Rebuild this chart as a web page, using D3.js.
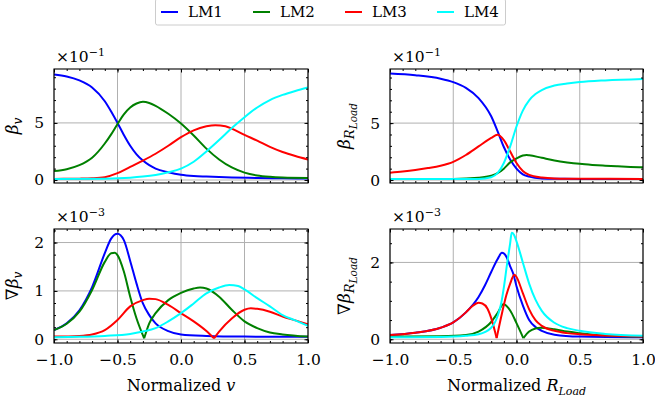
<!DOCTYPE html>
<html>
<head>
<meta charset="utf-8">
<style>
  body { margin: 0; background: #fff; }
  svg text { font-family: "DejaVu Serif", serif; }
</style>
</head>
<body>
<script src="https://cdn.jsdelivr.net/npm/d3@7"></script>
<script>
var width = 655, height = 405;

var seriesNames = ["LM1", "LM2", "LM3", "LM4"];
var colors = ["#0000ff", "#008000", "#ff0000", "#00ffff"];

// beta_v  (x10^-1)
var betaV_LM1 = [[-1,9.24],[-0.9,9.07],[-0.8,8.72],[-0.7,8.1],[-0.6,6.9],[-0.55,6.0],[-0.5,5.0],[-0.45,3.95],[-0.4,3.0],[-0.35,2.25],[-0.3,1.7],[-0.25,1.3],[-0.2,1.0],[-0.1,0.68],[0,0.46],[0.1,0.35],[0.2,0.3],[0.4,0.22],[0.6,0.18],[0.8,0.15],[1,0.13]];
var betaV_LM2 = [[-1,0.78],[-0.9,0.95],[-0.8,1.3],[-0.7,1.95],[-0.6,3.2],[-0.55,4.0],[-0.5,4.9],[-0.45,5.75],[-0.4,6.35],[-0.35,6.7],[-0.3,6.85],[-0.25,6.75],[-0.2,6.5],[-0.1,5.8],[0,4.95],[0.1,3.9],[0.2,2.75],[0.3,1.8],[0.4,1.1],[0.5,0.65],[0.6,0.4],[0.7,0.28],[0.8,0.22],[1,0.18]];
var betaV_LM3 = [[-1,0.1],[-0.8,0.12],[-0.7,0.15],[-0.6,0.25],[-0.5,0.6],[-0.4,1.15],[-0.3,1.7],[-0.2,2.3],[-0.1,3.0],[0,3.75],[0.1,4.35],[0.2,4.7],[0.27,4.8],[0.35,4.7],[0.4,4.5],[0.5,3.95],[0.6,3.45],[0.7,2.9],[0.8,2.45],[0.9,2.1],[1,1.8]];
var betaV_LM4 = [[-1,0.1],[-0.6,0.12],[-0.4,0.2],[-0.3,0.3],[-0.2,0.45],[-0.1,0.68],[0,1.0],[0.1,1.6],[0.2,2.5],[0.3,3.5],[0.4,4.55],[0.5,5.5],[0.6,6.35],[0.7,7.0],[0.8,7.45],[0.9,7.8],[1,8.1]];

// beta_R_Load  (x10^-1)
var betaR_LM1 = [[-1,9.35],[-0.8,9.2],[-0.6,8.9],[-0.5,8.6],[-0.4,8.1],[-0.3,7.2],[-0.2,5.6],[-0.15,4.3],[-0.1,2.9],[-0.05,1.8],[0,1.0],[0.05,0.5],[0.1,0.3],[0.2,0.14],[0.3,0.11],[0.5,0.1],[1,0.1]];
var betaR_LM2 = [[-1,0.09],[-0.5,0.1],[-0.3,0.2],[-0.2,0.38],[-0.15,0.6],[-0.1,1.0],[-0.05,1.55],[0,1.9],[0.05,2.15],[0.08,2.2],[0.1,2.18],[0.2,1.95],[0.3,1.72],[0.4,1.55],[0.5,1.42],[0.6,1.33],[0.7,1.26],[0.8,1.2],[0.9,1.15],[1,1.12]];
var betaR_LM3 = [[-1,0.65],[-0.9,0.75],[-0.8,0.88],[-0.7,1.05],[-0.6,1.26],[-0.5,1.6],[-0.4,2.2],[-0.3,2.95],[-0.2,3.7],[-0.15,3.97],[-0.1,3.5],[-0.05,2.5],[0,1.5],[0.05,0.8],[0.1,0.45],[0.2,0.22],[0.3,0.14],[0.5,0.11],[1,0.1]];
var betaR_LM4 = [[-1,0.09],[-0.3,0.1],[-0.2,0.25],[-0.15,0.6],[-0.1,1.5],[-0.05,2.95],[0,4.7],[0.05,6.1],[0.1,7.0],[0.15,7.55],[0.2,7.9],[0.3,8.3],[0.4,8.47],[0.5,8.6],[0.7,8.75],[1,8.88]];

// grad beta_v  (x10^-3)
var gradV_LM1 = [[-1,0.19],[-0.9,0.33],[-0.8,0.6],[-0.7,1.08],[-0.6,1.78],[-0.55,2.08],[-0.5,2.18],[-0.45,2.05],[-0.4,1.62],[-0.35,1.15],[-0.3,0.74],[-0.25,0.5],[-0.2,0.33],[-0.1,0.17],[0,0.1],[0.2,0.07],[0.5,0.055],[1,0.05]];
var gradV_LM2 = [[-1,0.19],[-0.9,0.32],[-0.8,0.57],[-0.7,1.02],[-0.6,1.6],[-0.55,1.78],[-0.52,1.79],[-0.5,1.74],[-0.45,1.4],[-0.4,0.88],[-0.35,0.43],[-0.29,0.02],[-0.25,0.33],[-0.2,0.54],[-0.1,0.81],[0,0.96],[0.1,1.05],[0.15,1.07],[0.2,1.05],[0.3,0.88],[0.4,0.61],[0.5,0.37],[0.6,0.23],[0.7,0.14],[0.8,0.1],[1,0.055]];
var gradV_LM3 = [[-1,0.055],[-0.8,0.07],[-0.7,0.1],[-0.6,0.19],[-0.5,0.4],[-0.4,0.68],[-0.3,0.81],[-0.25,0.84],[-0.2,0.83],[-0.1,0.71],[0,0.54],[0.1,0.37],[0.2,0.17],[0.26,0.02],[0.3,0.16],[0.4,0.43],[0.5,0.61],[0.55,0.64],[0.6,0.63],[0.7,0.57],[0.8,0.47],[0.9,0.39],[1,0.31]];
var gradV_LM4 = [[-1,0.04],[-0.8,0.05],[-0.6,0.07],[-0.4,0.11],[-0.3,0.16],[-0.2,0.23],[-0.1,0.37],[0,0.54],[0.1,0.74],[0.2,0.95],[0.3,1.07],[0.38,1.12],[0.45,1.1],[0.5,1.03],[0.6,0.85],[0.7,0.68],[0.8,0.5],[0.9,0.39],[1,0.28]];

// grad beta_R_Load  (x10^-3)
var gradR_LM1 = [[-1,0.11],[-0.8,0.17],[-0.6,0.3],[-0.5,0.44],[-0.4,0.7],[-0.3,1.1],[-0.25,1.4],[-0.2,1.75],[-0.15,2.08],[-0.115,2.25],[-0.08,2.15],[-0.05,1.9],[-0.025,1.7],[0,1.38],[0.05,0.88],[0.1,0.5],[0.15,0.32],[0.2,0.22],[0.3,0.12],[0.5,0.07],[1,0.05]];
var gradR_LM2 = [[-1,0.07],[-0.6,0.08],[-0.4,0.11],[-0.3,0.2],[-0.2,0.45],[-0.15,0.68],[-0.104,0.91],[-0.05,0.75],[0,0.42],[0.054,0.03],[0.1,0.2],[0.15,0.28],[0.19,0.3],[0.3,0.26],[0.4,0.2],[0.5,0.16],[0.7,0.1],[1,0.07]];
var gradR_LM3 = [[-1,0.11],[-0.8,0.17],[-0.6,0.3],[-0.5,0.44],[-0.4,0.7],[-0.35,0.86],[-0.3,0.95],[-0.27,0.93],[-0.23,0.8],[-0.2,0.55],[-0.157,0.03],[-0.12,0.6],[-0.08,1.15],[-0.05,1.45],[-0.017,1.68],[0,1.62],[0.05,1.2],[0.1,0.78],[0.15,0.5],[0.2,0.35],[0.3,0.22],[0.4,0.16],[0.5,0.13],[0.7,0.1],[1,0.07]];
var gradR_LM4 = [[-1,0.05],[-0.6,0.06],[-0.4,0.09],[-0.3,0.13],[-0.2,0.3],[-0.15,0.6],[-0.12,0.95],[-0.1,1.35],[-0.075,1.95],[-0.05,2.5],[-0.038,2.77],[-0.02,2.72],[0,2.55],[0.05,2.0],[0.1,1.45],[0.15,1.03],[0.2,0.74],[0.3,0.43],[0.4,0.29],[0.5,0.22],[0.7,0.14],[1,0.09]];

var xMajorTicks = [-1, -0.5, 0, 0.5, 1];
var xMinorTicks = [-1, -0.9, -0.8, -0.7, -0.6, -0.5, -0.4, -0.3, -0.2, -0.1, 0, 0.1, 0.2, 0.3, 0.4, 0.5, 0.6, 0.7, 0.8, 0.9, 1];

var panels = [
  { series: [betaV_LM1, betaV_LM2, betaV_LM3, betaV_LM4], left: 54, right: 308, top: 69, bottom: 183,
    yDomain: [-0.26, 9.72], yMajor: [0, 5], yMinor: [0,1,2,3,4,5,6,7,8,9], exp: "−1",
    ylabel: [["β", 17, 0], ["v", 12, 4]], ylabelX: 18, xTickLabels: false },
  { series: [betaR_LM1, betaR_LM2, betaR_LM3, betaR_LM4], left: 390, right: 643, top: 69, bottom: 183,
    yDomain: [-0.26, 9.75], yMajor: [0, 5], yMinor: [0,1,2,3,4,5,6,7,8,9], exp: "−1",
    ylabel: [["β", 17, 0], ["R", 13, 4], ["Load", 10.5, 3]], ylabelX: 350, xTickLabels: false },
  { series: [gradV_LM1, gradV_LM2, gradV_LM3, gradV_LM4], left: 54, right: 308, top: 229, bottom: 343,
    yDomain: [-0.077, 2.28], yMajor: [0, 1, 2], yMinor: [0,0.25,0.5,0.75,1,1.25,1.5,1.75,2,2.25], exp: "−3",
    ylabel: [["∇β", 17, 0], ["v", 12, 4]], ylabelX: 18, xTickLabels: true, xlabel: [["Normalized ", 16, 0, "normal"], ["v", 16, 0, "italic"]] },
  { series: [gradR_LM1, gradR_LM2, gradR_LM3, gradR_LM4], left: 390, right: 643, top: 229, bottom: 343,
    yDomain: [-0.097, 2.87], yMajor: [0, 2], yMinor: [0,0.5,1,1.5,2,2.5], exp: "−3",
    ylabel: [["∇β", 17, 0], ["R", 13, 4], ["Load", 10.5, 3]], ylabelX: 350, xTickLabels: true, xlabel: [["Normalized ", 16, 0, "normal"], ["R", 16, 0, "italic"], ["Load", 11, 4, "italic"]] }
];

var svg = d3.select("body").append("svg")
    .attr("width", width)
    .attr("height", height);

// split a series at its interior minima so the |gradient| cusps stay sharp
function splitAtMinima(pts) {
  var parts = [], start = 0;
  for (var i = 1; i < pts.length - 1; i++) {
    if (pts[i][1] < pts[i - 1][1] && pts[i][1] < pts[i + 1][1]) {
      parts.push(pts.slice(start, i + 1));
      start = i;
    }
  }
  parts.push(pts.slice(start));
  return parts;
}

panels.forEach(function(p, pi) {
  var x = d3.scaleLinear().domain([-1, 1]).range([p.left, p.right]);
  var y = d3.scaleLinear().domain(p.yDomain).range([p.bottom, p.top]);
  var g = svg.append("g");

  g.append("clipPath").attr("id", "clip" + pi)
    .append("rect")
      .attr("x", p.left).attr("y", p.top)
      .attr("width", p.right - p.left).attr("height", p.bottom - p.top);

  // grid
  g.selectAll(".gx").data(xMajorTicks).enter().append("line")
      .attr("x1", function(d){ return x(d); }).attr("x2", function(d){ return x(d); })
      .attr("y1", p.top).attr("y2", p.bottom)
      .attr("stroke", "#b0b0b0").attr("stroke-width", 1);
  g.selectAll(".gy").data(p.yMajor).enter().append("line")
      .attr("y1", function(d){ return y(d); }).attr("y2", function(d){ return y(d); })
      .attr("x1", p.left).attr("x2", p.right)
      .attr("stroke", "#b0b0b0").attr("stroke-width", 1);

  // curves
  var line = d3.line()
      .x(function(d){ return x(d[0]); })
      .y(function(d){ return y(d[1]); })
      .curve(d3.curveMonotoneX);
  var lg = g.append("g").attr("clip-path", "url(#clip" + pi + ")");
  p.series.forEach(function(s, si) {
    splitAtMinima(s).forEach(function(part) {
      lg.append("path")
          .attr("d", line(part))
          .attr("fill", "none")
          .attr("stroke", colors[si])
          .attr("stroke-width", 2)
          .attr("stroke-linejoin", "round");
    });
  });

  // axes, ticks pointing inward on all four sides
  var fmtX = d3.format(".1f");
  var axes = [
    [d3.axisBottom(x).tickValues(xMinorTicks).tickSize(-2).tickFormat(""), "translate(0," + p.bottom + ")"],
    [d3.axisTop(x).tickValues(xMinorTicks).tickSize(-2).tickFormat(""), "translate(0," + p.top + ")"],
    [d3.axisTop(x).tickValues(xMajorTicks).tickSize(-3.5).tickFormat(""), "translate(0," + p.top + ")"],
    [d3.axisBottom(x).tickValues(xMajorTicks).tickSize(-3.5).tickPadding(11)
        .tickFormat(p.xTickLabels ? fmtX : ""), "translate(0," + p.bottom + ")"],
    [d3.axisLeft(y).tickValues(p.yMinor).tickSize(-2).tickFormat(""), "translate(" + p.left + ",0)"],
    [d3.axisRight(y).tickValues(p.yMinor).tickSize(-2).tickFormat(""), "translate(" + p.right + ",0)"],
    [d3.axisRight(y).tickValues(p.yMajor).tickSize(-3.5).tickFormat(""), "translate(" + p.right + ",0)"],
    [d3.axisLeft(y).tickValues(p.yMajor).tickSize(-3.5).tickPadding(10).tickFormat(d3.format("d")), "translate(" + p.left + ",0)"]
  ];
  axes.forEach(function(a) {
    var ag = g.append("g").attr("transform", a[1]).call(a[0]);
    ag.attr("font-family", null);
    ag.select(".domain").remove();
    ag.selectAll(".tick line").attr("stroke", "#000").attr("stroke-width", 1);
    ag.selectAll(".tick text")
        .attr("fill", "#000")
        .style("font-family", "DejaVu Serif")
        .style("font-size", "15.5px");
  });

  g.append("rect")
      .attr("x", p.left).attr("y", p.top)
      .attr("width", p.right - p.left).attr("height", p.bottom - p.top)
      .attr("fill", "none").attr("stroke", "#000").attr("stroke-width", 1.1);

  // offset text  x10^-n
  var ot = g.append("text")
      .attr("x", p.left + 2).attr("y", p.top - 7)
      .style("font-size", "15.5px");
  ot.append("tspan").text("×10");
  ot.append("tspan").attr("dy", -6).style("font-size", "11px").text(p.exp);

  // y label
  var yl = g.append("text")
      .attr("transform", "translate(" + p.ylabelX + "," + (p.top + p.bottom) / 2 + ") rotate(-90)")
      .attr("text-anchor", "middle")
      .style("font-style", "italic");
  p.ylabel.forEach(function(t) {
    yl.append("tspan").attr("dy", t[2]).style("font-size", t[1] + "px").text(t[0]);
  });

  // x label
  if (p.xlabel) {
    var xl = g.append("text")
        .attr("x", (p.left + p.right) / 2).attr("y", 391)
        .attr("text-anchor", "middle");
    p.xlabel.forEach(function(t) {
      xl.append("tspan").attr("dy", t[2]).style("font-size", t[1] + "px")
          .style("font-style", t[3]).text(t[0]);
    });
  }
});

// legend
var legendX = [161, 253, 345, 437];
var legend = svg.append("g");
legend.append("rect")
    .attr("x", 155.5).attr("y", -1).attr("width", 350).attr("height", 26)
    .attr("rx", 2)
    .attr("fill", "#fff").attr("stroke", "#cccccc").attr("stroke-width", 1);
seriesNames.forEach(function(name, i) {
  legend.append("line")
      .attr("x1", legendX[i]).attr("x2", legendX[i] + 17)
      .attr("y1", 12).attr("y2", 12)
      .attr("stroke", colors[i]).attr("stroke-width", 2);
  legend.append("text")
      .attr("x", legendX[i] + 27).attr("y", 17)
      .style("font-size", "15px")
      .text(name);
});
</script>
</body>
</html>
